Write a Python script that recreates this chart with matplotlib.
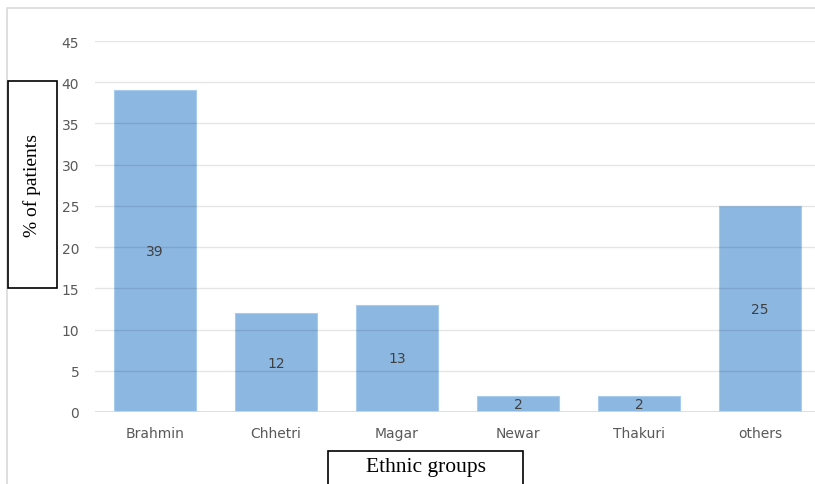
import matplotlib.pyplot as plt
from matplotlib.patches import Rectangle

grupos = ["Brahmin", "Chhetri", "Magar", "Newar", "Thakuri", "others"]
porcentajes = [39, 12, 13, 2, 2, 25]
marcas_y = [0, 5, 10, 15, 20, 25, 30, 35, 40, 45]

W, H = 815, 485
fig = plt.figure(figsize=(W / 100, H / 100), dpi=100)

# borde exterior gris claro (solo se ven arriba y a la izquierda)
fig.patches.append(Rectangle((7 / W, -0.1), 1.2, (H - 9) / H + 0.1, transform=fig.transFigure,
                             fill=False, edgecolor="#d9d9d9", linewidth=1.2))

# área del gráfico en píxeles
izq, der, arriba, abajo = 94.5, 815, 42, 413
ax = fig.add_axes([izq / W, 1 - abajo / H, (der - izq) / W, (abajo - arriba) / H])

paso = 121
ax.bar(range(len(grupos)), porcentajes, width=0.67, color="#8cb7e1",
       edgecolor="#a8cbed", linewidth=0.8, zorder=2)
for y in marcas_y[1:]:
    ax.axhline(y, color="black", alpha=0.10, linewidth=1, zorder=3)
ax.axhline(0, color="#d9d9d9", linewidth=1.2, zorder=4)

# etiquetas con el valor en medio de cada barra
for i, v in enumerate(porcentajes):
    ax.text(i, v / 2, str(v), ha="center", va="center", fontsize=10,
            color="#404040", zorder=5)

ax.set_ylim(0, 45)
ax.set_xlim(-0.5, (der - izq) / paso - 0.5)
ax.set_yticks(marcas_y)
ax.set_xticks(range(len(grupos)))
ax.set_xticklabels(grupos)
ax.tick_params(length=0, labelsize=10, colors="#595959", pad=10)
ax.tick_params(axis="y", pad=11)
for s in ax.spines.values():
    s.set_visible(False)

# cajas de los títulos de los ejes
fig.patches.append(Rectangle((8 / W, 1 - 289 / H), 49 / W, 207 / H, transform=fig.transFigure,
                             fill=False, edgecolor="black", linewidth=1.2))
fig.text(32.5 / W, 1 - 186 / H, "% of patients", rotation=90, ha="center", va="center",
         fontsize=14, family="Liberation Serif")
fig.patches.append(Rectangle((328 / W, -0.05), 195 / W, (H - 452) / H + 0.05,
                             transform=fig.transFigure, fill=False, edgecolor="black",
                             linewidth=1.2))
fig.text(425.5 / W, 1 - 468 / H, "Ethnic groups", ha="center", va="center",
         fontsize=15.5, family="Liberation Serif")

fig.savefig("out.png", dpi=100)
